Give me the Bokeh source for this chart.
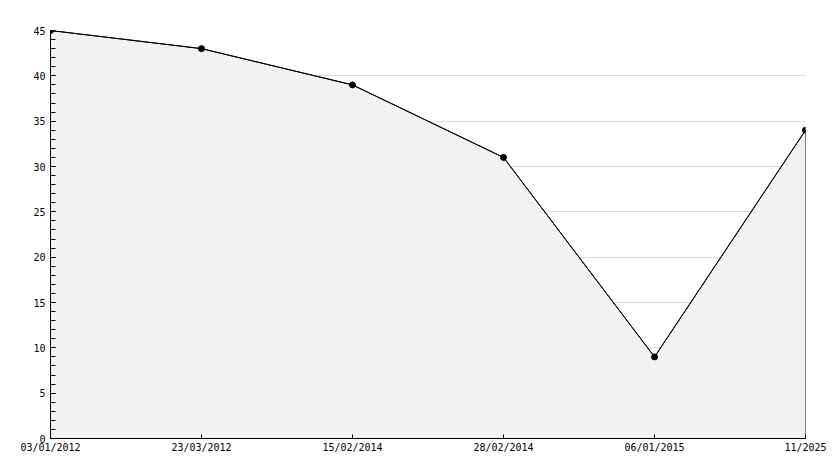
from bokeh.plotting import figure
from bokeh.models import Range1d, FixedTicker, SingleIntervalTicker, ColumnDataSource
from bokeh.embed import file_html
from bokeh.resources import INLINE

dates = ["03/01/2012", "23/03/2012", "15/02/2014", "28/02/2014", "06/01/2015", "11/2025"]
values = [45, 43, 39, 31, 9, 34]

xs = list(range(len(dates)))

p = figure(width=834, height=468, output_backend="svg", toolbar_location=None,
           x_range=Range1d(0, len(dates) - 1), y_range=Range1d(0, 45),
           min_border_left=50, min_border_right=29, min_border_top=30, min_border_bottom=30)
p.background_fill_color = "white"
p.border_fill_color = "white"
p.outline_line_color = None

# filled area with outline
p.patch(xs + [xs[-1], xs[0]], values + [0, 0], fill_color="#f2f2f2", line_color="black", line_width=1)
src = ColumnDataSource(dict(x=xs, y=values))
p.line("x", "y", source=src, line_color="black", line_width=1)
p.scatter("x", "y", source=src, marker="circle", size=6, fill_color="black", line_color="black")

p.xgrid.visible = False
p.ygrid.grid_line_color = "#dddddd"
p.ygrid.grid_line_width = 1

p.xaxis.ticker = FixedTicker(ticks=xs)
p.xaxis.major_label_overrides = {i: d for i, d in zip(xs, dates)}
p.xaxis.major_tick_in = 4
p.xaxis.major_tick_out = 0
p.xaxis.minor_tick_line_color = None
p.xaxis.major_label_standoff = 3

p.yaxis.ticker = SingleIntervalTicker(interval=5, num_minor_ticks=5)
p.yaxis.major_tick_in = 5
p.yaxis.major_tick_out = 0
p.yaxis.minor_tick_in = 5
p.yaxis.minor_tick_out = 0
p.yaxis.major_label_standoff = 5

for ax in (p.xaxis, p.yaxis):
    ax.axis_line_color = "black"
    ax.major_tick_line_color = "black"
    ax.major_label_text_font = "DejaVu Sans Mono"
    ax.major_label_text_font_size = "10px"
    ax.major_label_text_color = "black"
p.yaxis.minor_tick_line_color = "black"

open("out.html", "w").write(file_html(p, INLINE))
